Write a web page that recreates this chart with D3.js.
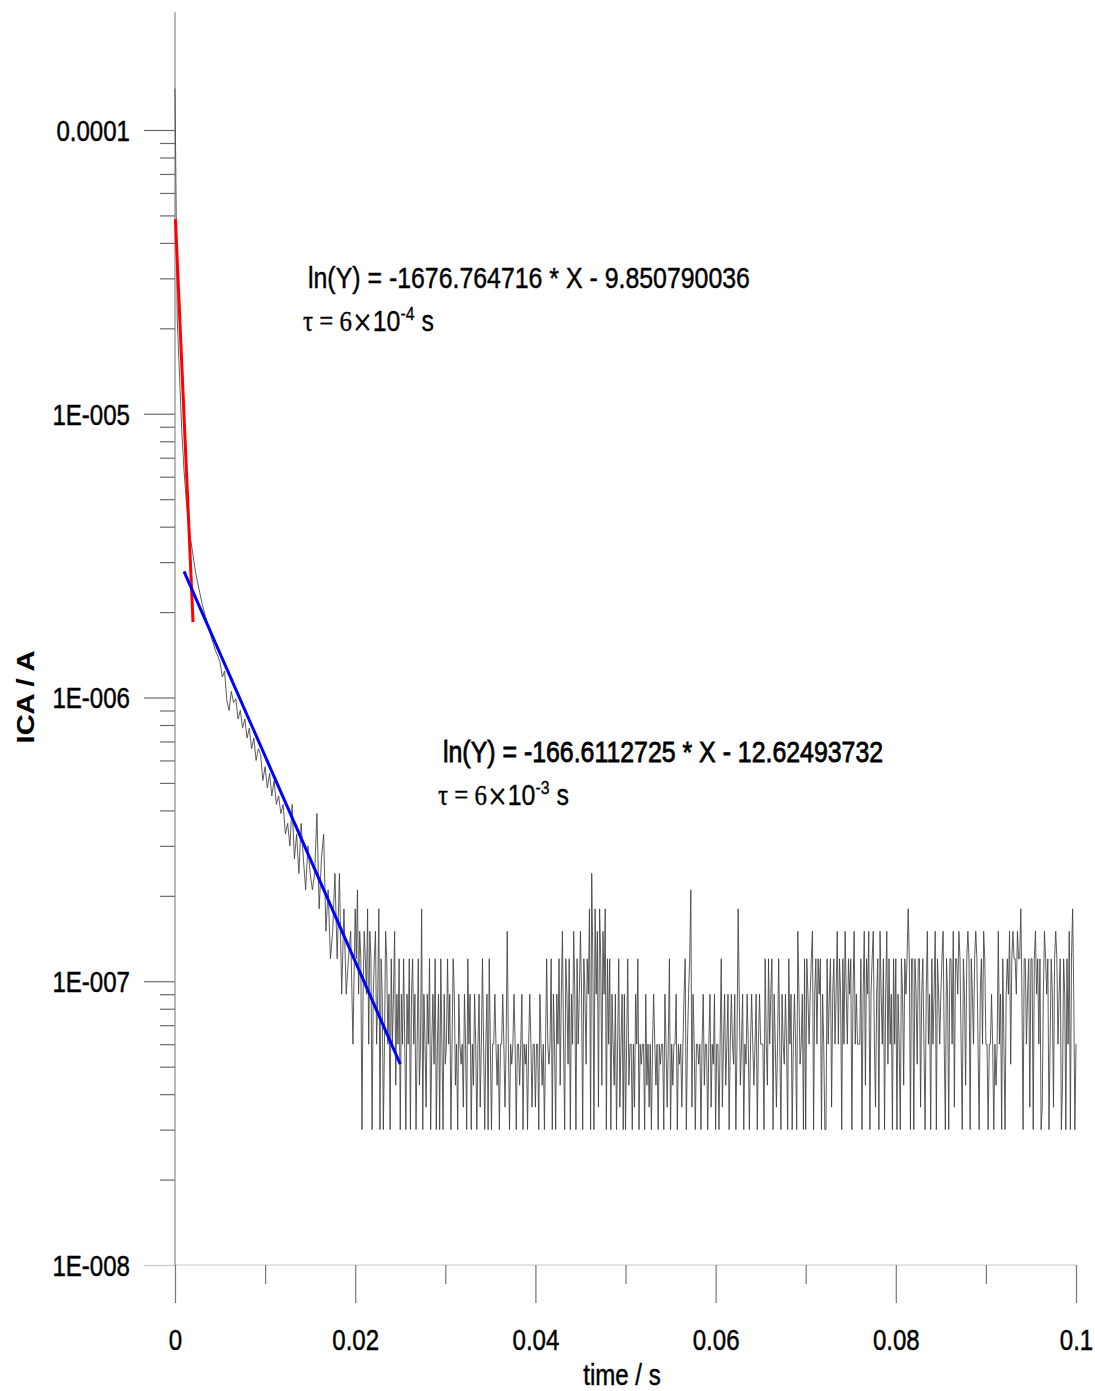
<!DOCTYPE html>
<html>
<head>
<meta charset="utf-8">
<script src="https://cdn.jsdelivr.net/npm/d3@7"></script>
<style>
  body { margin: 0; background: #fff; }
  svg text { font-family: "Liberation Sans", Arial, sans-serif; fill: #000; stroke: #000; stroke-width: 0.45px; }
</style>
</head>
<body>
<svg id="chart" width="1095" height="1391"></svg>
<script>
// Decay part of the transient: one reading every decayStep from t = 0,
// in units of 1e-8 A.
const decayStep = 0.00025;
const decayE8 = [
  14000, 2138, 1368, 875, 632, 495, 414, 358, 317, 281,
  255, 234, 215, 200, 187, 175, 164, 155, 146, 140,
  133, 118, 124, 98, 90, 105, 96, 99, 84, 90,
  78, 84, 72, 78, 66, 72, 60, 66, 63, 51,
  57, 48, 54, 45, 51, 42, 45, 39, 42, 33,
  36, 30, 42, 27, 33, 24, 36, 27, 21, 30,
  24, 21, 24, 39, 18, 27, 33, 15, 21, 12,
  15, 24, 12, 24, 9, 18, 9, 12, 15, 6
];

// Noise floor from noiseStart, one reading every noiseStep (quantised, 1e-8 A units)
const noiseStart = 0.02;
const noiseStep = 0.000125;
const noiseE8 = [
  18, 12, 21, 9, 15, 12, 3, 9, 15, 12, 9, 18, 6, 15, 12, 3, 9, 12, 15, 6,
  9, 18, 3, 12, 9, 3, 6, 15, 12, 6, 9, 3, 12, 6, 9, 15, 4.3, 9, 6, 12,
  3, 9, 6, 12, 6, 3, 9, 6, 12, 3, 9, 12, 6, 9, 3, 6, 12, 4.3, 6, 18,
  3, 9, 6, 3.6, 9, 6, 12, 3, 6, 9, 5.1, 12, 3, 6, 9, 3, 12, 6, 3, 9,
  5.1, 6, 12, 6, 9, 3, 6, 12, 9, 4.3, 6, 3, 9, 6, 5.1, 6, 3.6, 9, 6, 3,
  12, 6, 9, 3, 6, 4.3, 9, 6, 3, 6, 9, 3.6, 6, 12, 6, 3, 6, 9, 3, 12,
  6, 3, 6, 6, 9, 6, 4.3, 6, 3, 6, 6, 9, 6, 3.6, 6, 15, 6, 3, 6, 5.1,
  6, 9, 6, 3, 6, 6, 4.3, 6, 9, 3, 6, 5.1, 6, 3, 6, 9, 6, 3.6, 6, 6,
  3.6, 6, 6, 3, 9, 6, 4.3, 6, 3, 6, 12, 6, 5.1, 6, 12, 3, 9, 6, 3, 9,
  6, 12, 4.3, 9, 15, 6, 3, 12, 9, 5.1, 12, 3, 9, 6, 15, 9, 3, 12, 6, 9,
  15, 9, 3, 12, 9, 5.1, 12, 9, 18, 3, 24, 12, 3, 18, 9, 15, 3.6, 18, 12, 4.3,
  15, 9, 18, 3, 12, 6, 12, 3, 9, 6, 4.3, 9, 3, 6, 12, 3.6, 6, 9, 3, 9,
  3, 6, 12, 4.3, 6, 6, 3, 6, 3.6, 9, 6, 12, 3, 6, 5.1, 6, 6, 3, 9, 4.3,
  6, 3.6, 6, 3, 6, 9, 6, 4.3, 6, 3, 6, 5.1, 6, 6, 3, 9, 6, 3.6, 6, 12,
  3, 6, 4.3, 6, 6, 9, 3, 6, 5.1, 6, 3.6, 6, 9, 12, 3, 6, 9, 12, 21, 3.6,
  9, 6, 3, 6, 6, 5.1, 6, 3, 6, 9, 4.3, 6, 6, 3, 6, 9, 3.6, 6, 5.1, 9,
  3, 6, 6, 3, 6, 12, 3.6, 6, 9, 4.3, 6, 9, 3, 6, 9, 6, 5.1, 9, 3, 6,
  18, 9, 4.3, 6, 9, 3, 6, 5.1, 9, 6, 3, 6, 9, 6, 4.3, 6, 9, 3, 6, 9,
  6, 6, 6, 3, 12, 6, 4.3, 12, 6, 9, 12, 3, 9, 6, 3.6, 6, 12, 6, 3, 9,
  6, 5.1, 9, 6, 3, 12, 6, 9, 3, 6, 9, 6, 3, 15, 9, 5.1, 6, 9, 3, 12,
  3, 12, 9, 6, 9, 12, 15, 3, 9, 12, 6, 12, 9, 12, 3, 9, 6, 3, 3, 12,
  6, 9, 12, 3.6, 9, 12, 6, 9, 15, 6, 12, 9, 3, 12, 6, 15, 9, 6, 12, 9,
  12, 3, 9, 15, 6, 9, 6, 6, 6, 12, 3, 9, 15, 4.3, 12, 9, 15, 3, 9, 12,
  15, 6, 3.6, 9, 12, 3, 15, 9, 6, 12, 3, 9, 15, 5.1, 12, 6, 9, 3, 12, 6,
  12, 3, 9, 6, 3, 12, 9, 4.3, 12, 9, 12, 18, 12, 3, 12, 12, 3, 12, 9, 5.1,
  12, 12, 3.6, 9, 12, 6, 3, 9, 15, 6, 9, 3, 12, 6, 9, 15, 3, 12, 9, 6,
  9, 12, 15, 6, 3, 12, 9, 3, 12, 12, 6, 15, 3.6, 12, 12, 9, 15, 12, 6, 3,
  12, 9, 4.3, 12, 15, 12, 3, 12, 9, 6, 12, 15, 12, 6, 3, 9, 12, 6, 15, 12,
  6, 6, 3, 6, 6, 9, 6, 3, 6, 4.3, 6, 15, 6, 9, 3, 12, 6, 3, 9, 12,
  9, 15, 5.1, 12, 15, 12, 12, 9, 15, 12, 12, 18, 9, 3, 12, 12, 6, 9, 12, 3.6,
  12, 12, 3, 12, 15, 9, 12, 6, 12, 3, 3.6, 9, 15, 12, 9, 12, 3, 6, 12, 9,
  3.6, 12, 15, 12, 6, 9, 12, 3, 4.3, 12, 9, 3, 12, 6, 15, 3, 12, 18, 9, 3,
  6
];

// Exponential fits ln(Y) = slope * X + intercept and the time span each covers
const fastFit = { slope: -1676.764716, intercept: -9.850790036, from: 0.00005, to: 0.002 };
const slowFit = { slope: -166.6112725, intercept: -12.62493732, from: 0.001, to: 0.025 };

// Axis ticks
const xMajorTicks = [0, 0.02, 0.04, 0.06, 0.08, 0.1];
const xMajorLabels = ["0", "0.02", "0.04", "0.06", "0.08", "0.1"];
const xMinorTicks = [0.01, 0.03, 0.05, 0.07, 0.09];
const yMajorTicks = [1e-4, 1e-5, 1e-6, 1e-7, 1e-8];
const yMajorLabels = ["0.0001", "1E-005", "1E-006", "1E-007", "1E-008"];
const yMinorDecades = [1e-8, 1e-7, 1e-6, 1e-5];
const yMinorSteps = [2, 3, 4, 5, 6, 7, 8, 9];
const yAxisTop = 2.6e-4;

const samples = decayE8.map((v, i) => ({ t: i * decayStep, a: v * 1e-8 }))
  .concat(noiseE8.map((v, i) => ({ t: noiseStart + i * noiseStep, a: v * 1e-8 })));

const svg = d3.select("#chart");
const x = d3.scaleLinear().domain([0, 0.1]).range([175, 1076]);
const y = d3.scaleLog().domain([1e-8, 1e-4]).range([1265, 130]);

const squeeze = "scale(0.83,1)";   // condensed lettering

// axis lines
svg.append("line")
  .attr("x1", x(0)).attr("x2", x(0.1))
  .attr("y1", y(1e-8)).attr("y2", y(1e-8))
  .attr("stroke", "#c8c8c8").attr("stroke-width", 1.2);
svg.append("line")
  .attr("x1", x(0)).attr("x2", x(0))
  .attr("y1", y(yAxisTop)).attr("y2", y(1e-8))
  .attr("stroke", "#8a8a8a").attr("stroke-width", 1.2);

// y axis: minor then major ticks
const yMinorTicks = yMinorDecades.flatMap(d => yMinorSteps.map(m => m * d));
const yMinor = svg.append("g").attr("transform", `translate(${x(0)},0)`)
  .call(d3.axisLeft(y).tickValues(yMinorTicks).tickSize(15).tickFormat(""));
const yMajor = svg.append("g").attr("transform", `translate(${x(0)},0)`)
  .call(d3.axisLeft(y).tickValues(yMajorTicks).tickSize(31)
    .tickFormat((d, i) => yMajorLabels[i]));
[yMinor, yMajor].forEach(g => {
  g.select(".domain").remove();
  g.selectAll(".tick line").attr("stroke", "#6a6a6a").attr("stroke-width", 1.2);
});
yMajor.selectAll(".tick").filter(d => d === 1e-8).select("line").attr("stroke", "#c8c8c8");
yMajor.selectAll(".tick text")
  .attr("x", 0).attr("dy", "0.36em")
  .attr("transform", `translate(-45,0) ${squeeze}`)
  .attr("font-size", 29).attr("font-family", null).attr("text-anchor", "end");

// x axis
const xMinor = svg.append("g").attr("transform", `translate(0,${y(1e-8)})`)
  .call(d3.axisBottom(x).tickValues(xMinorTicks).tickSize(19).tickFormat(""));
const xMajor = svg.append("g").attr("transform", `translate(0,${y(1e-8)})`)
  .call(d3.axisBottom(x).tickValues(xMajorTicks).tickSize(38)
    .tickFormat((d, i) => xMajorLabels[i]));
[xMinor, xMajor].forEach(g => {
  g.select(".domain").remove();
  g.selectAll(".tick line").attr("stroke", "#777").attr("stroke-width", 1.2);
});
xMajor.selectAll(".tick text")
  .attr("y", 0).attr("dy", "0.36em")
  .attr("transform", `translate(0,75) ${squeeze}`)
  .attr("font-size", 29).attr("font-family", null).attr("text-anchor", "middle");

// axis titles
svg.append("text")
  .attr("transform", `translate(622,1375) ${squeeze}`)
  .attr("dy", "0.36em").attr("text-anchor", "middle").attr("font-size", 29)
  .text("time / s");
svg.append("text")
  .attr("transform", `translate(25,697) ${squeeze} rotate(-90)`)
  .attr("dy", "0.36em").attr("text-anchor", "middle").attr("font-size", 29)
  .attr("font-weight", "bold").style("stroke-width", "0.2px")
  .text("ICA / A");

// measured transient
const trace = d3.line().x(d => x(d.t)).y(d => y(d.a));
svg.append("path")
  .datum(samples)
  .attr("d", trace)
  .attr("fill", "none")
  .attr("stroke", "#404040")
  .attr("stroke-width", 0.85);

// fitted exponentials (straight on the log axis)
function fitPoints(f) {
  return [f.from, f.to].map(t => ({ t, a: Math.exp(f.slope * t + f.intercept) }));
}
svg.append("path").datum(fitPoints(fastFit)).attr("d", trace)
  .attr("fill", "none").attr("stroke", "#ff0000").attr("stroke-width", 3);
svg.append("path").datum(fitPoints(slowFit)).attr("d", trace)
  .attr("fill", "none").attr("stroke", "#0000ff").attr("stroke-width", 3);

// fit annotations
function annotate(fit, left, base, exponent, weight) {
  const eq = `ln(Y) = ${fit.slope} * X - ${Math.abs(fit.intercept)}`;
  svg.append("text")
    .attr("transform", `translate(${left},${base}) ${squeeze}`)
    .attr("font-size", 30).style("stroke-width", weight + "px")
    .text(eq);
  const tau = svg.append("text")
    .attr("transform", `translate(${left - 5},${base + 43}) ${squeeze}`)
    .attr("font-size", 30).style("stroke-width", "0.35px");
  const serif = "Liberation Serif, Times New Roman, serif";
  tau.append("tspan").attr("font-family", serif).text("\u03c4 = 6");
  tau.append("tspan").attr("font-family", "DejaVu Sans, sans-serif").attr("font-size", 30)
    .attr("dy", 1).style("stroke-width", "0.05px").text("\u00d7");
  tau.append("tspan").attr("dy", -1).text("10");
  tau.append("tspan").attr("font-size", 19).attr("dy", -11).text(exponent);
  tau.append("tspan").attr("dy", 11).text(" s");
}
annotate(fastFit, 308, 288, "-4", 0.45);
annotate(slowFit, 443, 762, "-3", 0.8);
</script>
</body>
</html>
